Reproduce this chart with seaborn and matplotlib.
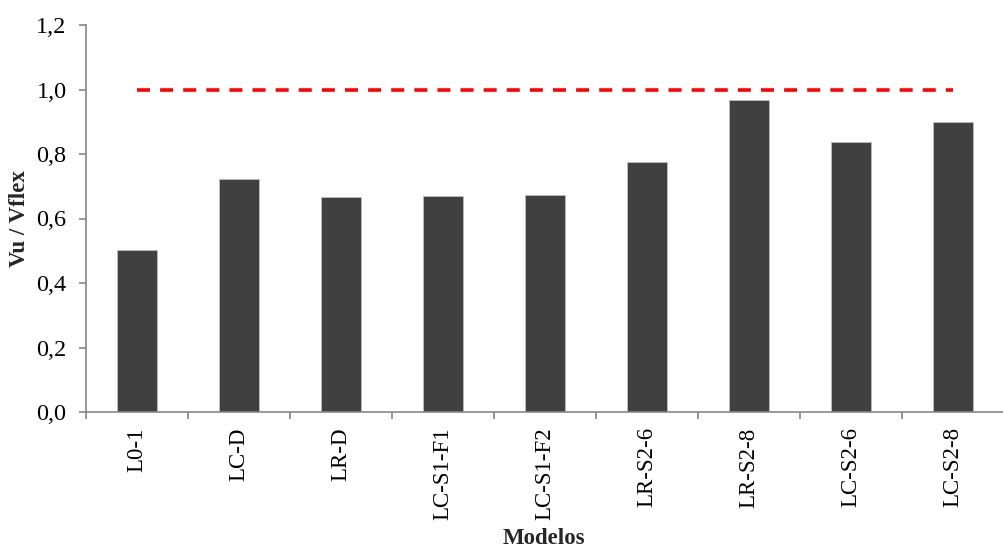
import matplotlib
matplotlib.use("Agg")
import matplotlib.pyplot as plt
import seaborn as sns
import pandas as pd
from matplotlib.ticker import FuncFormatter, FixedLocator

categories = ["L0-1", "LC-D", "LR-D", "LC-S1-F1", "LC-S1-F2", "LR-S2-6", "LR-S2-8", "LC-S2-6", "LC-S2-8"]
ratios = [0.502, 0.724, 0.668, 0.671, 0.673, 0.774, 0.968, 0.837, 0.898]
reference = [1.0] * len(categories)
y_ticks = [0.0, 0.2, 0.4, 0.6, 0.8, 1.0, 1.2]

sns.set_theme(style="white")
plt.rcParams['font.family'] = ['Liberation Serif', 'DejaVu Serif']

df = pd.DataFrame({"Modelos": categories, "ratio": ratios, "ref": reference})

fig = plt.figure(figsize=(10.04, 5.48), dpi=100)
ax = fig.add_axes([86/1004, 1 - 412/548, 918/1004, 387/548])

sns.barplot(data=df, x="Modelos", y="ratio", color="#404040", width=0.4,
            edgecolor="#bdbdbd", linewidth=0.6, saturation=1, ax=ax)
sns.lineplot(data=df, x="Modelos", y="ref", color="#ff0000", linewidth=2.6,
             ax=ax, sort=False)
ax.lines[-1].set_dashes([3.6, 2.8])
ax.lines[-1].set_dash_capstyle("butt")

ax.set_ylim(0, 1.2)
ax.set_xlim(-0.5, -0.5 + 918/103)
ax.yaxis.set_major_locator(FixedLocator(y_ticks))
ax.yaxis.set_major_formatter(FuncFormatter(lambda v, p: f"{v:.1f}".replace(".", ",")))

for s in ["top", "right"]:
    ax.spines[s].set_visible(False)
for s in ["left", "bottom"]:
    ax.spines[s].set_color("#868686")
    ax.spines[s].set_linewidth(1.2)

ax.tick_params(axis="y", which="major", left=True, length=5, width=1.2, color="#868686",
               labelsize=17.5, pad=9, labelcolor="black")
ax.set_xticks(range(len(categories)))
ax.set_xticklabels(categories)
ax.tick_params(axis="x", which="major", bottom=False, length=0, labelsize=16.5, pad=11,
               labelrotation=90, labelcolor="black")
ax.set_xticks([i - 0.5 for i in range(len(categories) + 1)], minor=True)
ax.tick_params(axis="x", which="minor", bottom=True, length=5, width=1.2, color="#868686")

ax.set_xlabel("Modelos", fontsize=16.5, fontweight="bold")
ax.set_ylabel("Vu / Vflex", fontsize=16.5, fontweight="bold")
ax.yaxis.set_label_coords(-66/918, 0.5)
ax.xaxis.set_label_coords((544 - 86)/918, -(538 - 412)/387)
ax.xaxis.label.set_va("center")
ax.yaxis.label.set_va("center")

fig.savefig("out.png", dpi=100, facecolor="white")
